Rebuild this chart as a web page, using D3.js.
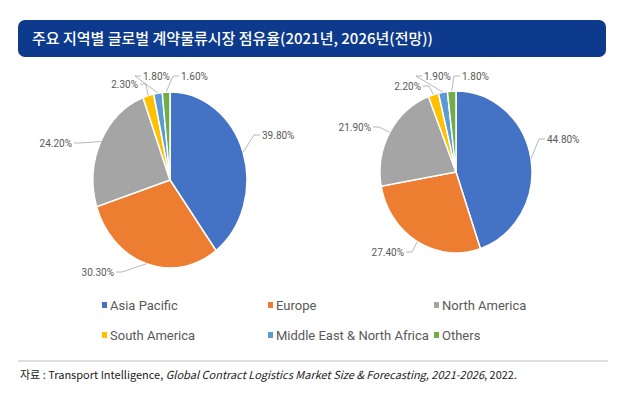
<!DOCTYPE html>
<html><head><meta charset="utf-8">
<script src="https://cdn.jsdelivr.net/npm/d3@7"></script>
<style>body{margin:0;background:#fff}svg{font-family:"Noto Sans CJK KR","Noto Sans",sans-serif}</style>
</head><body><svg id="c" width="639" height="411"></svg>
<script>
const categories=["Asia Pacific","Europe","North America","South America","Middle East & North Africa","Others"];
const values2021=[39.8,30.3,24.2,2.3,1.8,1.6];
const values2026=[44.8,27.4,21.9,2.2,1.9,1.8];
const colors=["#4472C4","#ED7D31","#A5A5A5","#FFC000","#5B9BD5","#70AD47"];
const title="주요 지역별 글로벌 계약물류시장 점유율(2021년, 2026년(전망))";

const svg=d3.select("#c");
svg.append("rect").attr("x",18).attr("y",20).attr("width",588).attr("height",37).attr("rx",7).attr("fill","#0D3A8C");
svg.append("text").attr("x",32).attr("y",44).attr("fill","#fff").attr("font-size",15).attr("font-weight",500).text(title);

const lab1=[[262,139,"start"],[114,276,"end"],[72,147,"end"],[138,88,"end"],[143,80,"start"],[181,80,"start"]];
const lab2=[[547,143,"start"],[404,256,"end"],[371,131,"end"],[421,90,"end"],[424,80,"start"],[462,80,"start"]];

function drawPie(vals,cx,cy,rx,ry,labs){
  const pie=d3.pie().sort(null).value(d=>d);
  const arcs=pie(vals);
  const g=svg.append("g").attr("transform",`translate(${cx},${cy}) scale(1,${ry/rx})`);
  const arc=d3.arc().innerRadius(0).outerRadius(rx);
  g.selectAll("path").data(arcs).join("path").attr("d",arc)
    .attr("fill",(d,i)=>colors[i]).attr("stroke","#fff").attr("stroke-width",1.5).attr("vector-effect","non-scaling-stroke");
  arcs.forEach((a,i)=>{
    const m=(a.startAngle+a.endAngle)/2;
    const px=cx+Math.sin(m)*rx, py=cy-Math.cos(m)*ry;
    const [lx,ly,anc]=labs[i];
    const ex=anc==="start"?lx-2:lx+2;
    svg.append("polyline").attr("points",`${px},${py} ${ex+(anc==="start"?-6:6)},${ly-4} ${ex},${ly-4}`)
      .attr("fill","none").attr("stroke","#A6A6A6").attr("stroke-width",0.8);
    svg.append("text").attr("x",lx).attr("y",ly).attr("text-anchor",anc).attr("font-size",10)
      .attr("fill","#595959").attr("font-family","Liberation Sans Narrow,Roboto,sans-serif").text(vals[i].toFixed(2)+"%");
  });
}
drawPie(values2021,170,180,77,88,lab1);
drawPie(values2026,456,172,76,81,lab2);

const lx=[102,268,434];
categories.forEach((c,i)=>{
  const x=lx[i%3], y=i<3?306:336;
  svg.append("rect").attr("x",x).attr("y",y-4).attr("width",5).attr("height",6).attr("fill",colors[i]);
  svg.append("text").attr("x",x+8).attr("y",y+4).attr("font-size",13).attr("fill","#595959")
    .attr("font-family","Liberation Sans Narrow,Roboto,sans-serif").text(c);
});
svg.append("line").attr("x1",18).attr("x2",608).attr("y1",361).attr("y2",361).attr("stroke","#BFBFBF");
const t=svg.append("text").attr("x",20).attr("y",379).attr("font-size",11).attr("fill","#222");
t.append("tspan").text("자료 : Transport Intelligence, ");
t.append("tspan").attr("font-style","italic").text("Global Contract Logistics Market Size & Forecasting, 2021-2026");
t.append("tspan").text(", 2022.");
</script></body></html>
